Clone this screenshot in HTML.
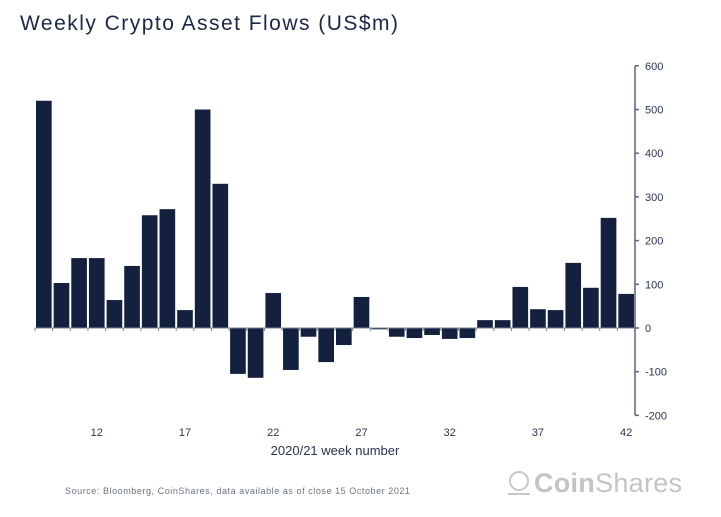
<!DOCTYPE html>
<html><head><meta charset="utf-8"><style>
body{margin:0;background:#fff;width:721px;height:512px;overflow:hidden;font-family:"Liberation Sans",sans-serif}
</style></head><body>
<svg width="721" height="512">
<text x="20" y="30" font-size="21" fill="#1b2747" textLength="378">Weekly Crypto Asset Flows (US$m)</text>
<g id="plot"></g>
<text x="335" y="455" text-anchor="middle" font-size="13" fill="#2a3552">2020/21 week number</text>
<text x="65" y="494" font-size="9" fill="#6a7385" textLength="345">Source: Bloomberg, CoinShares, data available as of close 15 October 2021</text>
<g>
<circle cx="519" cy="481" r="9" fill="none" stroke="#c8c8c8" stroke-width="2"/>
<path d="M508 494h22" stroke="#c8c8c8" stroke-width="2"/>
<text x="534" y="492" font-size="27" fill="#c4c4c4" textLength="148"><tspan font-weight="bold">Coin</tspan>Shares</text>
</g>
</svg>
<script>
const weeks=[9,10,11,12,13,14,15,16,17,18,19,20,21,22,23,24,25,26,27,28,29,30,31,32,33,34,35,36,37,38,39,40,41,42];
const flows=[520,103,160,160,64,142,258,272,41,500,330,-105,-114,80,-96,-20,-78,-39,71,-3,-20,-23,-16,-25,-23,18,18,94,43,41,149,92,252,78];
const yTicks=[600,500,400,300,200,100,0,-100,-200];
const xLabels=[12,17,22,27,32,37,42];
const NS="http://www.w3.org/2000/svg";
const g=document.getElementById('plot');
const x0=35,x1=635,band=(x1-x0)/weeks.length;
const y=v=>328-v*0.437;
const xw=w=>x0+(w-weeks[0])*band;
function mk(t,a){const e=document.createElementNS(NS,t);for(const k in a)e.setAttribute(k,a[k]);g.appendChild(e);return e;}
flows.forEach((v,i)=>{
 const r=mk('rect',{x:xw(weeks[i])+1,y:Math.min(y(v),y(0)),width:band-2,height:Math.abs(y(v)-y(0)),fill:'#13213f'});
 
 
});
const zl=mk('line',{x1:x0,x2:x1,y1:y(0),y2:y(0),stroke:'#7a8296','stroke-width':1});


for(let i=0;i<=weeks.length;i++){mk('line',{x1:x0+i*band,x2:x0+i*band,y1:y(0),y2:y(0)+3,stroke:'#7a8296'});}
const ya=mk('line',{x1:x1,x2:x1,y1:y(600),y2:y(-200),stroke:'#5a6378','stroke-width':1.5});


yTicks.forEach(v=>{
 mk('line',{x1:x1,x2:x1+4,y1:y(v),y2:y(v),stroke:'#5a6378','stroke-width':1.5});
 const t=mk('text',{x:645,y:y(v)+4,'font-size':11,fill:'#2a3552'});t.textContent=v;
 
 
});
xLabels.forEach(w=>{
 const t=mk('text',{x:xw(w)+band/2,y:436,'font-size':11,fill:'#2a3552','text-anchor':'middle'});t.textContent=w;
 
 
});
</script>
</body></html>
